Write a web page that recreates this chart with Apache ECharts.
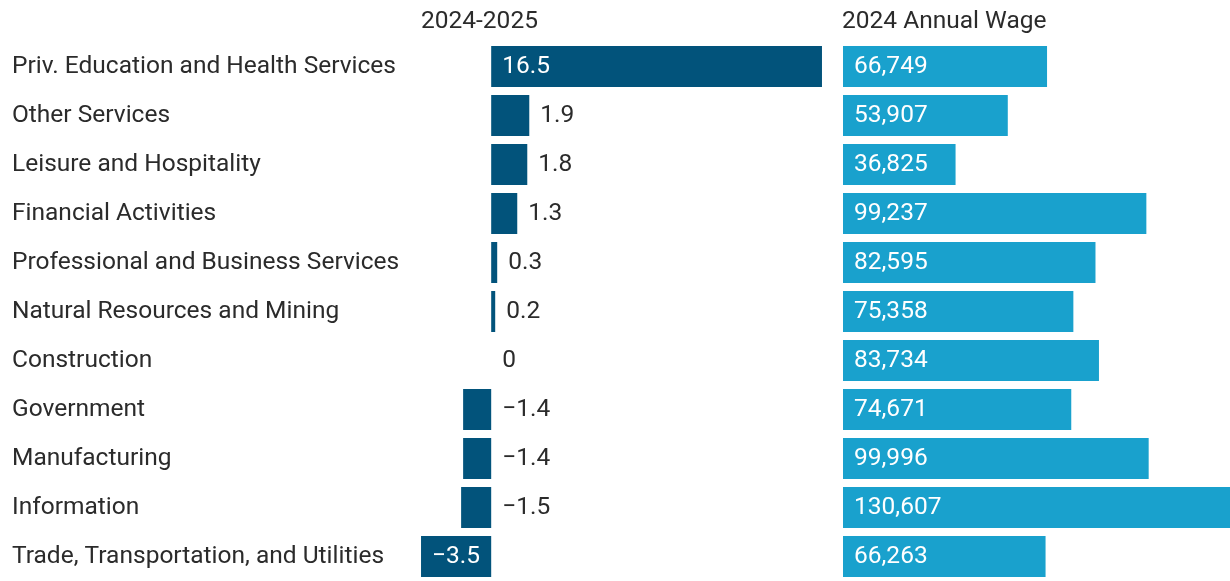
<!DOCTYPE html>
<html>
<head>
<meta charset="utf-8">
<script src="https://cdn.jsdelivr.net/npm/echarts@6/dist/echarts.min.js"></script>
<style>
  html, body { margin: 0; padding: 0; background: #fff; }
  #chart { width: 1230px; height: 581px; }
</style>
</head>
<body>
<div id="chart"></div>
<script>
const industries = [
  "Priv. Education and Health Services",
  "Other Services",
  "Leisure and Hospitality",
  "Financial Activities",
  "Professional and Business Services",
  "Natural Resources and Mining",
  "Construction",
  "Government",
  "Manufacturing",
  "Information",
  "Trade, Transportation, and Utilities"
];
const change = [16.5, 1.9, 1.8, 1.3, 0.3, 0.2, 0, -1.4, -1.4, -1.5, -3.5];
const wage = [66749, 53907, 36825, 99237, 82595, 75358, 83734, 74671, 99996, 130607, 66263];
const titles = ["2024-2025", "2024 Annual Wage"];

const font = "Roboto, 'Noto Sans', sans-serif";
const fontSize = 24.5;
const textColor = "#2b2b2b";
const dark = "#02537b";
const light = "#19a1cd";

let chartDom = document.getElementById("chart");
let myChart = echarts.init(chartDom);

// big bars get their label inside, the rest next to the zero line
const changeData = change.map(function (v) {
  const inside = Math.abs(v) >= 3;
  return {
    value: v,
    label: inside
      ? { position: "insideLeft", distance: 11, color: "#fff" }
      : { position: "right", distance: 11, color: textColor }
  };
});

let option = {
  animation: false,
  title: [
    {
      text: titles[0],
      left: 421,
      top: 9,
      padding: 0,
      textStyle: { fontFamily: font, fontSize: fontSize, fontWeight: "normal", color: textColor }
    },
    {
      text: titles[1],
      left: 842,
      top: 9,
      padding: 0,
      textStyle: { fontFamily: font, fontSize: fontSize, fontWeight: "normal", color: textColor }
    }
  ],
  grid: [
    { left: 411, width: 421, top: 42, height: 543 },
    { left: 843, right: 0, top: 42, height: 543 }
  ],
  xAxis: [
    { type: "value", gridIndex: 0, min: -4, max: 17, show: false },
    // the widest bar runs off the right edge of the picture
    { type: "value", gridIndex: 1, min: 0, max: 126600, show: false }
  ],
  yAxis: [
    {
      type: "category",
      gridIndex: 0,
      data: industries,
      inverse: true,
      axisLine: { show: false, onZero: false },
      axisTick: { show: false },
      axisLabel: {
        align: "left",
        margin: 399,
        padding: [5, 0, 0, 0],
        fontFamily: font,
        fontSize: fontSize,
        color: textColor
      }
    },
    {
      type: "category",
      gridIndex: 1,
      data: industries,
      inverse: true,
      show: false
    }
  ],
  series: [
    {
      type: "bar",
      xAxisIndex: 0,
      yAxisIndex: 0,
      data: changeData,
      barWidth: 41,
      itemStyle: { color: dark },
      label: {
        show: true,
        padding: [4, 0, 0, 0],
        fontFamily: font,
        fontSize: fontSize,
        formatter: function (p) {
          return p.value < 0 ? "\u2212" + Math.abs(p.value) : String(p.value);
        }
      }
    },
    {
      type: "bar",
      xAxisIndex: 1,
      yAxisIndex: 1,
      data: wage,
      barWidth: 41,
      itemStyle: { color: light },
      label: {
        show: true,
        position: "insideLeft",
        distance: 11,
        padding: [4, 0, 0, 0],
        color: "#fff",
        fontFamily: font,
        fontSize: fontSize,
        formatter: function (p) {
          return p.value.toLocaleString("en-US");
        }
      }
    }
  ]
};
option && myChart.setOption(option);
</script>
</body>
</html>
